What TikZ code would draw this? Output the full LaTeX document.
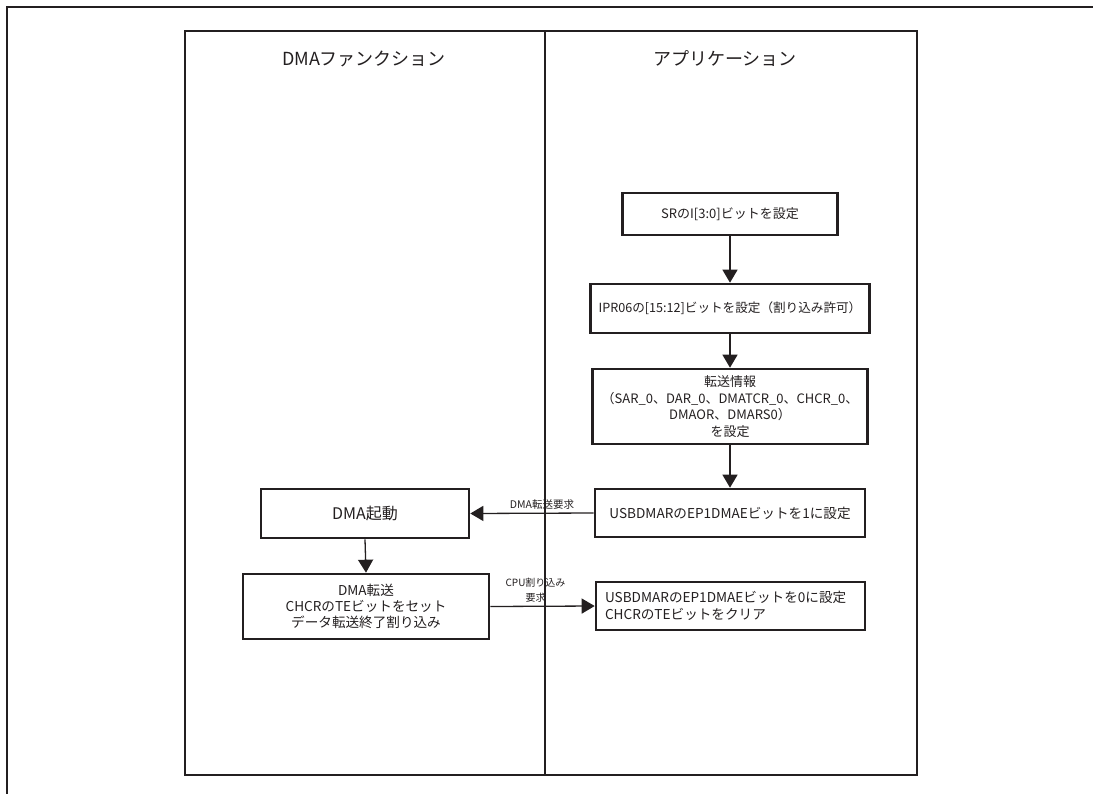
\documentclass[tikz,border=0pt]{standalone}
\usepackage{fontspec}
\setmainfont{Noto Sans CJK JP}
\usetikzlibrary{arrows.meta}
\definecolor{ink}{HTML}{231F20}
\begin{document}
\begin{tikzpicture}[x=1pt,y=-1pt,
  frame/.style={draw=ink, line width=2.6pt},
  box/.style={draw=ink, line width=2.6pt, align=center, inner sep=2pt,
    font=\fontsize{13}{16.5}\selectfont, text=ink},
  arr/.style={draw=ink, line width=1.3pt, -{Triangle[length=13pt,width=15pt]}},
  lbl/.style={font=\fontsize{10}{15}\selectfont, text=ink, inner sep=0pt, align=center},
  ttl/.style={font=\fontsize{18}{20}\selectfont, text=ink, inner sep=0pt}]
\useasboundingbox (0,0) rectangle (1093,793);
\clip (0,0) rectangle (1093,793);
\draw[frame] (7,7) rectangle (1130,830);
\coordinate (ftl) at (185,31);
\coordinate (fbr) at (917,775);
\coordinate (dtop) at (545,31);
\coordinate (dbot) at (545,775);
\draw[frame] (ftl) rectangle (fbr);
\draw[frame] (dtop) -- (dbot);
\node[ttl] (t1) at (364,58.5) {DMAファンクション};
\node[ttl] (t2) at (725,58.5) {アプリケーション};
% right column
\node[box, minimum width=215pt, minimum height=42pt] (sr) at (730,214) {SRのI[3:0]ビットを設定};
\node[box, minimum width=279pt, minimum height=49pt, inner sep=0pt, font=\fontsize{12.6}{16.5}\selectfont] (ipr) at (730,308.5) {IPR06の[15:12]ビットを設定（割り込み許可）};
\node[box, minimum width=275pt, minimum height=75pt, inner sep=0pt] (info) at (730,406.5) {転送情報\\（SAR\_0、DAR\_0、DMATCR\_0、CHCR\_0、\\DMAOR、DMARS0）\\を設定};
\node[box, minimum width=270pt, minimum height=48pt, font=\fontsize{13.6}{16.5}\selectfont] (usb1) at (730,513) {USBDMARのEP1DMAEビットを1に設定};
\node[box, minimum height=48pt, inner xsep=9pt, text width=251pt, align=left, font=\fontsize{13.6}{16.5}\selectfont] (usb0) at (730.5,606) {USBDMARのEP1DMAEビットを0に設定\\CHCRのTEビットをクリア};
% left column
\node[box, minimum width=208pt, minimum height=49pt, font=\fontsize{16}{18}\selectfont] (dst) at (365,513.5) {DMA起動};
\node[box, minimum width=246pt, minimum height=65pt, font=\fontsize{13.6}{16}\selectfont] (dtr) at (366,606.5) {DMA転送\\CHCRのTEビットをセット\\データ転送終了割り込み};
% connectors
\draw[arr] (sr.south) -- (ipr.north);
\draw[arr] (ipr.south) -- (info.north);
\draw[arr] (info.south) -- (usb1.north);
\draw[arr] (usb1.west) -- (dst.east);
\draw[arr] (dst.south) -- (dtr.north);
\draw[arr] (dtr.east) -- (usb0.west);
\node[lbl, font=\fontsize{10.5}{15}\selectfont] (lreq) at (542,505) {DMA転送要求};
\node[lbl] (lcpu) at (535.5,590.5) {CPU割り込み\\要求};
\end{tikzpicture}
\end{document}
